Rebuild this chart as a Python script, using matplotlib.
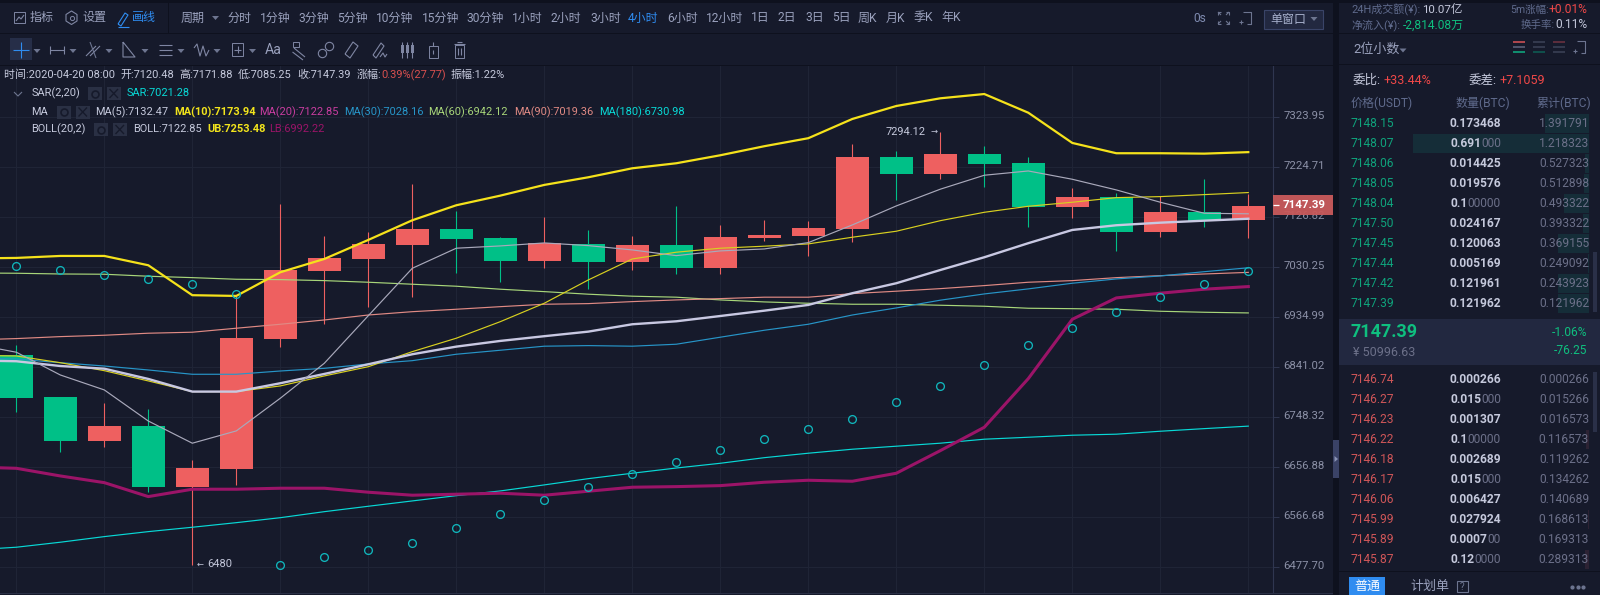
import math
import matplotlib
matplotlib.use("Agg")
import matplotlib.pyplot as plt
from matplotlib.patches import Rectangle, Polygon
from matplotlib.transforms import ScaledTranslation

plt.rcParams['font.family'] = ['Roboto', 'Noto Sans CJK SC', 'DejaVu Sans']

# ---------- chart data ----------
opens = [6863.0,6784.8,6704.4,6731.3,6620.8,6653.3,6893.7,7022.6,7045.8,7072.8,7103.1,7085.7,7041.3,7074.1,7040.0,7072.2,7028.3,7086.3,7090.1,7103.7,7244.0,7211.0,7249.9,7232.0,7146.4,7165.4,7097.6,7136.0,7120.48]
highs = [6881.8,6785.0,6773.7,6762.6,6668.6,6974.4,7151.7,7089.6,7097.3,7191.4,7138.0,7087.6,7126.2,7101.7,7089.6,7147.8,7111.4,7120.4,7118.5,7269.2,7256.5,7294.12,7265.8,7244.0,7183.0,7173.2,7167.3,7200.6,7171.88]
lows = [6756.5,6684.3,6692.9,6610.7,6480.0,6623.9,6877.5,6921.8,6954.0,6973.1,7017.7,7001.6,7027.2,6987.8,7024.0,7017.0,7017.0,7079.9,7051.5,7078.5,7159.5,7200.6,7185.0,7106.9,7123.7,7060.8,7087.8,7107.5,7085.25]
closes = [6783.5,6704.4,6731.3,6620.8,6654.5,6895.0,7024.0,7047.1,7074.1,7103.1,7084.3,7041.3,7076.0,7040.0,7072.2,7028.3,7087.6,7091.5,7105.0,7244.0,7211.0,7249.9,7230.7,7146.4,7165.4,7097.6,7136.0,7119.1,7147.39]

# line series start one 4h bar before the first visible candle
ub = [7046.1,7047.1,7050.9,7050.9,7033.0,6975.8,6974.4,7019.6,7045.1,7081.8,7119.9,7149.1,7167.9,7188.9,7203.9,7221.6,7231.5,7247.3,7265.2,7281.1,7319.4,7345.4,7360.8,7369.4,7331.9,7271.7,7251.3,7251.3,7250.5,7253.48]
lb = [6656.3,6654.0,6640.1,6628.0,6602.8,6616.1,6616.1,6617.9,6617.9,6610.7,6605.3,6607.1,6608.9,6605.3,6612.5,6619.7,6620.8,6622.6,6628.7,6632.3,6630.5,6645.0,6686.1,6728.9,6818.8,6930.1,6970.6,6979.6,6987.2,6992.22]
ma5 = [6883.7,6868.1,6825.6,6797.8,6740.4,6699.7,6722.2,6782.4,6847.4,6936.9,7027.2,7065.8,7070.2,7076.0,7070.8,7062.5,7051.5,7060.6,7064.4,7076.6,7110.8,7147.8,7180.5,7207.9,7216.3,7200.0,7179.1,7155.0,7133.5,7132.47]
ma10 = [6862.1,6861.1,6848.5,6833.6,6814.5,6794.7,6794.7,6805.2,6823.8,6841.0,6869.2,6894.4,6925.6,6960.5,7004.9,7045.1,7058.1,7065.8,7069.7,7074.1,7087.0,7098.6,7119.1,7135.4,7147.1,7155.0,7164.0,7166.0,7169.9,7173.94]
ma20 = [6852.7,6851.2,6842.3,6837.3,6818.2,6794.7,6794.7,6810.2,6827.5,6845.5,6864.3,6878.6,6889.3,6898.2,6906.8,6920.7,6926.3,6936.3,6946.4,6957.3,6979.6,6998.6,7023.9,7048.4,7075.5,7101.1,7110.2,7115.2,7119.1,7122.85]
ma30 = [6857.2,6855.3,6848.5,6842.3,6834.9,6826.9,6826.9,6833.0,6838.0,6846.1,6852.3,6864.3,6871.8,6879.4,6880.5,6879.4,6883.1,6896.3,6909.4,6920.7,6938.2,6951.6,6966.3,6978.2,6987.8,6998.6,7006.8,7012.5,7020.7,7028.16]
ma60 = [7018.2,7017.7,7016.3,7015.8,7012.0,7009.3,7006.2,7005.5,7003.6,7000.5,6996.7,6992.9,6987.2,6982.6,6977.7,6973.9,6972.0,6966.8,6963.0,6960.5,6958.6,6958.6,6956.7,6954.8,6951.0,6950.2,6949.1,6945.3,6943.4,6942.12]
ma90 = [6891.2,6893.7,6897.4,6900.0,6903.8,6905.7,6913.2,6920.7,6928.8,6938.2,6944.5,6949.1,6954.0,6958.6,6959.8,6963.6,6966.8,6969.3,6972.0,6972.0,6978.8,6983.4,6988.3,6994.1,7000.5,7003.6,7009.3,7013.1,7016.3,7019.36]
ma180 = [6507.4,6512.2,6521.1,6531.1,6540.0,6547.8,6556.0,6564.9,6575.7,6585.4,6595.0,6604.5,6613.0,6623.9,6635.2,6645.0,6654.5,6663.1,6673.3,6681.4,6688.7,6694.2,6699.7,6707.0,6710.6,6714.3,6716.2,6721.6,6726.4,6730.98]
sar = [7032.2,7024.0,7015.0,7006.2,6997.9,6977.7,6480.7,6494.4,6507.4,6520.4,6546.6,6572.1,6596.8,6620.8,6643.7,6666.0,6686.9,6707.0,6726.4,6744.6,6776.1,6805.8,6845.1,6881.1,6913.8,6944.0,6971.9,6997.9,7021.28]

price_ticks = [7323.95,7224.71,7126.82,7030.25,6934.99,6841.02,6748.32,6656.88,6566.68,6477.70]

# ---------- order book data ----------
ask_prices = ['7148.15','7148.07','7148.06','7148.05','7148.04','7147.50','7147.45','7147.44','7147.42','7147.39']
ask_qty = [('0.173468',''),('0.691','000'),('0.014425',''),('0.019576',''),('0.1','00000'),('0.024167',''),('0.120063',''),('0.005169',''),('0.121961',''),('0.121962','')]
ask_total = ['1.391791','1.218323','0.527323','0.512898','0.493322','0.393322','0.369155','0.249092','0.243923','0.121962']
bid_prices = ['7146.74','7146.27','7146.23','7146.22','7146.18','7146.17','7146.06','7145.99','7145.89','7145.87']
bid_qty = [('0.000266',''),('0.015','000'),('0.001307',''),('0.1','00000'),('0.002689',''),('0.015','000'),('0.006427',''),('0.027924',''),('0.0007','00'),('0.12','0000')]
bid_total = ['0.000266','0.015266','0.016573','0.116573','0.119262','0.134262','0.140689','0.168613','0.169313','0.289313']

periods = [('分时',227),('1分钟',260),('3分钟',298),('5分钟',337),('10分钟',376),('15分钟',422),('30分钟',466),('1小时',512),('2小时',550.5),('3小时',590),('4小时',628),('6小时',667),('12小时',705.6),('1日',751),('2日',778),('3日',805),('5日',832),('周K',858),('月K',886),('季K',913),('年K',941)]

# ---------- colours ----------
BG = '#161a2b'
GRID = '#1f2436'
EDGE = '#0e111e'
RED = '#ee6060'
GREEN = '#00c087'
TXT = '#9aa1bd'
ICON = '#7f86a3'
LIGHT = '#c5c9dc'
BLUE = '#2f8cf0'
ASK = '#0fa37c'
BID = '#cf5658'

W, H = 1600, 595
fig = plt.figure(figsize=(W/100, H/100), dpi=100, facecolor=BG)
renderer = fig.canvas.get_renderer()

# ---------- main chart ----------
L_PX, R_PX, T_PX, B_PX = 0, 1273, 66, 592.5
ax = fig.add_axes([L_PX/W, 1-B_PX/H, (R_PX-L_PX)/W, (B_PX-T_PX)/H], facecolor=BG)
ax.set_yscale('log')
step = 44.0
ax.set_xlim((L_PX-16.3)/step, (R_PX-16.3)/step)
k = math.log(price_ticks[0]/price_ticks[-1])/450.0
ax.set_ylim(price_ticks[-1]*math.exp(-k*(B_PX-566.7)), price_ticks[0]*math.exp(k*(116.7-T_PX)))
ax.set_axisbelow(True)

idx = list(range(len(opens)))
for i in idx:
    c = RED if closes[i] >= opens[i] else GREEN
    ax.vlines(i, lows[i], highs[i], color=c, lw=0.8, zorder=2)
    ax.bar(i, abs(closes[i]-opens[i]), bottom=min(opens[i], closes[i]), width=33/step, color=c, lw=0, zorder=2.1)

line_x = list(range(-1, len(opens)))
ax.plot(line_x, ma180, color='#08d9d6', lw=0.85, zorder=3)
ax.plot(line_x, ma60, color='#a8d67a', lw=0.85, zorder=3)
ax.plot(line_x, ma90, color='#e08a84', lw=0.85, zorder=3)
ax.plot(line_x, ma30, color='#2795c8', lw=0.85, zorder=3)
ax.plot(line_x, ma10, color='#d8d020', lw=0.85, zorder=3)
ax.plot(line_x, ma20, color='#c8c8e2', lw=1.7, zorder=3.1)
ax.plot(line_x, ma5, color='#a9a9bb', lw=0.85, zorder=3.2)
ax.plot(line_x, ub, color='#f5e21b', lw=1.6, zorder=3.3)
ax.plot(line_x, lb, color='#9b1468', lw=2.2, zorder=3.3)
ax.plot(idx, sar, 'o', mfc='none', mec='#10b5bb', ms=5.6, mew=0.95, zorder=4)

PT = 0.72
ax.annotate('7294.12', (21, 7294.12), xytext=(-15*PT, 0), textcoords='offset points', ha='right', va='center',
            color=LIGHT, fontsize=7.9, zorder=5)
ax.annotate('→', (21, 7294.12), xytext=(-3*PT, 0), textcoords='offset points', ha='right', va='center',
            color=LIGHT, fontsize=6, zorder=5, family='DejaVu Sans')
ax.annotate('←', (4, 6480), xytext=(4*PT, 1), textcoords='offset points', ha='left', va='center',
            color=LIGHT, fontsize=6, zorder=5, family='DejaVu Sans')
ax.annotate('6480', (4, 6480), xytext=(15*PT, 1), textcoords='offset points', ha='left', va='center',
            color=LIGHT, fontsize=7.9, zorder=5)

ax.set_xticks(range(0, 29, 2))
ax.set_xticklabels([])
ax.minorticks_off()
ax.yaxis.tick_right()
ax.set_yticks(price_ticks)
ax.set_yticklabels([f'{v:.2f}' for v in price_ticks])
ax.tick_params(axis='y', which='both', length=4.3, width=0.7, color='#2f3650', labelcolor='#8b90a6', labelsize=8.2, pad=3)
ax.tick_params(axis='y', which='minor', length=0, labelright=False)
ax.tick_params(axis='x', length=0)
ax.grid(True, color=GRID, lw=0.75)
for lbl in ax.get_yticklabels():
    lbl.set_transform(lbl.get_transform() + ScaledTranslation(0, 1.5/100, fig.dpi_scale_trans))
for s in ['top', 'left', 'bottom']:
    ax.spines[s].set_visible(False)
ax.spines['right'].set_color('#2f3650')
ax.spines['right'].set_linewidth(0.8)

# ---------- UI overlay in pixel coordinates ----------
ui = fig.add_axes([0, 0, 1, 1], facecolor='none', zorder=10)
ui.set_xlim(0, W)
ui.set_ylim(H, 0)
ui.axis('off')

def px(s):
    return s*0.72

def T(x, y, s, color=TXT, size=12, ha='left', weight='normal', z=6):
    return ui.text(x, y, s, color=color, fontsize=px(size), ha=ha, va='center', fontweight=weight, zorder=z)

def R(x0, y0, x1, y1, color, z=1, alpha=None, fill=True, lw=0):
    ui.add_patch(Rectangle((x0, y0), x1-x0, y1-y0, facecolor=color if fill else 'none',
                           edgecolor=color if not fill else 'none', linewidth=lw, zorder=z, alpha=alpha))

def Ln(xs, ys, color=ICON, lw=0.8, z=5):
    ui.plot(xs, ys, color=color, lw=lw, zorder=z, solid_capstyle='butt')

def caret(x, y, color='#6d7590'):
    ui.add_patch(Polygon([(x-3.5, y-2), (x+3.5, y-2), (x, y+2)], facecolor=color, edgecolor='none', zorder=5))

# panels / toolbars
R(0, 0, W, 3, EDGE, z=1)
R(0, 33, 1333, 34, EDGE, z=1)
R(0, 65, 1333, 66, EDGE, z=1)
R(167.5, 3, 168.5, 33, EDGE, z=1)
R(1333, 0, 1339, H, EDGE, z=1)
R(1339, 33, W, 34, EDGE, z=1)
R(1339, 64, W, 65, EDGE, z=1)
R(1339, 571, W, 572, EDGE, z=1)
R(0, 592.5, 1333, 593.5, '#2a3046', z=1)

# top toolbar icons + text
R(14, 12, 25, 23, ICON, fill=False, lw=0.7, z=5)
Ln([16, 19, 21, 24], [21, 17, 19, 15])
T(29.5, 18, '指标')
ui.add_patch(Polygon([(71.5, 11), (77, 14.5), (77, 21), (71.5, 24.5), (66, 21), (66, 14.5)], facecolor='none', edgecolor=ICON, lw=0.8, zorder=5))
ui.plot([71.5], [17.8], 'o', mfc='none', mec=ICON, ms=3, mew=0.7, zorder=5)
T(82, 18, '设置')
Ln([118, 125, 128, 121, 118], [24, 13, 15, 26, 24], BLUE)
Ln([118, 129], [27, 27], BLUE)
T(132, 18, '画线', BLUE)
T(181, 18, '周期')
caret(215.5, 18)
for name, x in periods:
    T(x, 18, name, BLUE if name == '4小时' else TXT)
T(1193.6, 18, '0s', '#7f8bb0')
for (a, b, c, d) in [(1218, 12, 1, 1), (1229, 12, -1, 1), (1218, 24, 1, -1), (1229, 24, -1, -1)]:
    Ln([a, a, a+3*c], [b+3*d, b, b], '#6d7590')
    Ln([a, a+3*c], [b, b+3*d], '#6d7590')
Ln([1243, 1251, 1251, 1247], [12, 12, 24, 24], '#6d7590')
Ln([1239, 1243], [22, 22], '#6d7590')
Ln([1241, 1241], [20, 24], '#6d7590')
R(1263.6, 9.5, 1322.5, 28.5, '#222840', z=2)
R(1263.6, 9.5, 1322.5, 28.5, '#3a4468', fill=False, lw=0.8, z=3)
T(1270, 19, '单窗口', '#a7b0cc')
caret(1314, 19)

# second toolbar
R(10, 38, 32, 60, '#262e48', z=2)
Ln([13, 29], [49.5, 49.5], BLUE)
Ln([21, 21], [41.5, 57.5], BLUE)
for xc in [37, 73, 109, 145, 181, 217, 252.5]:
    caret(xc, 51)
Ln([50, 64], [50, 50]); Ln([50, 50], [46, 54]); Ln([64, 64], [46, 54])
Ln([86, 96], [56, 46]); Ln([90, 100], [56, 46]); Ln([90, 96], [42, 58], '#6d7590')
Ln([123, 123, 135, 123], [42, 57, 57, 42])
Ln([159, 172], [45, 45]); Ln([159, 172], [50, 50]); Ln([159, 172], [55, 55])
Ln([194, 197, 200, 203, 206, 209], [48, 44, 56, 46, 56, 50])
R(232, 43, 243, 56, ICON, fill=False, lw=0.7, z=5)
Ln([234, 241], [49.5, 49.5]); Ln([237.5, 237.5], [46, 53])
T(265, 50, 'Aa', size=14)
R(293, 42, 299, 47, ICON, fill=False, lw=0.7, z=5)
Ln([294, 305], [48, 57]); Ln([292.5, 303], [52, 60])
ui.plot([322, 329], [53, 46], 'o', mfc='none', mec=ICON, ms=6, mew=0.8, zorder=5)
Ln([345, 353, 358, 350, 345], [54, 42, 46, 58, 54])
Ln([373, 381, 384, 376, 373], [55, 43, 46, 58, 55]); Ln([380, 383, 385, 387], [57, 53, 57, 54])
for xc in [402, 407, 412]:
    R(xc-1.5, 45, xc+1.5, 53, ICON, z=5)
    Ln([xc, xc], [42, 58])
R(428.5, 46, 438, 58, ICON, fill=False, lw=0.7, z=5)
Ln([433, 433], [42, 46]); Ln([433, 433], [50, 54])
R(455, 45, 464, 58, ICON, fill=False, lw=0.7, z=5)
Ln([453.5, 465], [44, 44]); Ln([457, 462], [41.5, 41.5])
Ln([458, 458], [48, 55]); Ln([461, 461], [48, 55])

# legend rows
Y1, Y2, Y3, Y4 = 75, 93.5, 112, 129.5
S = 11
for x, s, c in [(4, '时间:2020-04-20 08:00', LIGHT), (120, '开:7120.48', LIGHT), (179, '高:7171.88', LIGHT),
                (238, '低:7085.25', LIGHT), (297, '收:7147.39', LIGHT), (356.5, '涨幅:', LIGHT),
                (381, '0.39%(27.77)', '#d9504f'), (451, '振幅:1.22%', LIGHT)]:
    T(x, Y1, s, c, S)
Ln([14, 18, 22], [92, 96, 92], '#6d7590')
T(31.6, Y2, 'SAR(2,20)', LIGHT, S)
T(127, Y2, 'SAR:7021.28', '#08d9d6', S)
T(31.6, Y3, 'MA', LIGHT, S)
for x, s, c, w in [(95, 'MA(5):7132.47', LIGHT, 'normal'), (174, 'MA(10):7173.94', '#f2e41c', 'bold'),
                   (259, 'MA(20):7122.85', '#c93da0', 'normal'), (344, 'MA(30):7028.16', '#2795c8', 'normal'),
                   (428.5, 'MA(60):6942.12', '#a8d67a', 'normal'), (514, 'MA(90):7019.36', '#e08a84', 'normal'),
                   (599, 'MA(180):6730.98', '#08d9d6', 'normal')]:
    T(x, Y3, s, c, S, weight=w)
T(31.6, Y4, 'BOLL(20,2)', LIGHT, S)
T(133, Y4, 'BOLL:7122.85', LIGHT, S)
T(207, Y4, 'UB:7253.48', '#f2e41c', S, weight='bold')
T(269, Y4, 'LB:6992.22', '#9b1468', S)
for x0, y in [(88, Y2), (107, Y2), (57, Y3), (76, Y3), (94, Y4), (113, Y4)]:
    R(x0, y-6.5, x0+13.5, y+6.5, '#2a3044', z=2)
for x0, y in [(107, Y2), (76, Y3), (113, Y4)]:
    Ln([x0+2.5, x0+11], [y-4.5, y+4.5], '#161a2b', lw=1)
    Ln([x0+2.5, x0+11], [y+4.5, y-4.5], '#161a2b', lw=1)
for x0, y in [(88, Y2), (57, Y3), (94, Y4)]:
    ui.plot([x0+6.7], [y], 'o', mfc='none', mec='#161a2b', ms=5, mew=1.2, zorder=5)

# price tag
R(1273, 195, 1333, 215, '#c95a5b', z=4, alpha=0.95)
Ln([1273, 1279], [205, 205], 'white', lw=0.9)
T(1283, 204.5, '7147.39', 'white', 11.5, weight='bold')

# sidebar header
T(1351, 9.5, '24H成交额(¥):', '#5f6a8c', 11)
T(1421.7, 9.5, '10.07亿', LIGHT, 11.5)
T(1549, 9.5, '5m涨幅:', '#5f6a8c', 10.5, ha='right')
T(1587, 9.5, '+0.01%', '#f04848', 12, ha='right')
T(1351, 25, '净流入(¥):', '#5f6a8c', 11)
T(1402.7, 25, '-2,814.08万', '#0fbf7f', 12)
T(1555, 25, '换手率:', '#5f6a8c', 10.5, ha='right')
T(1587, 25, '0.11%', LIGHT, 12, ha='right')
T(1353, 49, '2位小数', TXT, 13)
caret(1403, 50.5)
rows = [(1513, ['#c94f55', '#5a6078', '#0fa37c']), (1533, ['#3a4055', '#3a4055', '#0e5a52']), (1553, ['#6a3240', '#3a4055', '#3a4055'])]
for x0, cs in rows:
    for yy, c in zip([41.7, 46.7, 51.7], cs):
        Ln([x0, x0+12], [yy, yy], c, lw=1.2)
Ln([1577, 1585, 1585, 1581], [41, 41, 53, 53], '#6d7590')
Ln([1573, 1577], [51, 51], '#6d7590')
Ln([1575, 1575], [49, 53], '#6d7590')

T(1353, 80.7, '委比:', LIGHT, 12.5)
T(1383, 80.7, '+33.44%', '#f04848', 12.5)
T(1469, 80.7, '委差:', LIGHT, 12.5)
T(1499, 80.7, '+7.1059', '#f04848', 12.5)
T(1351, 103.3, '价格(USDT)', '#5f6a8c', 12)
T(1510, 103.3, '数量(BTC)', '#5f6a8c', 12, ha='right')
T(1591, 103.3, '累计(BTC)', '#5f6a8c', 12, ha='right')

def book_rows(prices, qtys, totals, y0, pcolor, barc, scale):
    for i, (p, q, t) in enumerate(zip(prices, qtys, totals)):
        y = y0 + 20*i
        w = float(q[0]+q[1])*scale
        R(1589-w, y-9.5, 1589, y+9.5, barc, z=2)
        T(1351, y, p, pcolor, 12)
        edge_x = 1501.0
        if q[1]:
            dim = T(1501, y, q[1], '#6c7089', 12, ha='right')
            left_disp = dim.get_window_extent(renderer).x0
            edge_x = ui.transData.inverted().transform((left_disp, 0))[0]
        T(edge_x, y, q[0], LIGHT, 12, weight='bold', ha='right')
        T(1589, y, t, '#6c7089', 12, ha='right')

book_rows(ask_prices, ask_qty, ask_total, 123.7, ASK, '#152d38', 254.7)
book_rows(bid_prices, bid_qty, bid_total, 379.3, BID, '#2c2233', 30)

# last price band
R(1339, 319, W, 365, '#222840', z=1)
T(1350.7, 331.7, '7147.39', '#0fbf7f', 18, weight='bold')
T(1353, 352, '¥ 50996.63', '#6c7089', 12.5)
T(1587, 332, '-1.06%', '#0fbf7f', 12, ha='right')
T(1587, 350.7, '-76.25', '#0fbf7f', 12, ha='right')

# scrollbars + splitter
R(1593, 252, 1597, 312, '#2a3048', z=3)
R(1593, 372, 1597, 432, '#2a3048', z=3)
R(1333, 440, 1339, 478, '#3a4266', z=3)
ui.add_patch(Polygon([(1334.5, 456), (1334.5, 462), (1338, 459)], facecolor='#8a93b5', edgecolor='none', zorder=4))

# bottom tabs
R(1349, 577, 1385, 595, '#2f8cf0', z=2)
T(1367, 586, '普通', 'white', 13, ha='center')
T(1410, 586, '计划单', TXT, 13)
R(1457, 581, 1468, 592, '#6d7590', fill=False, lw=0.8, z=3)
T(1462.5, 586.5, '?', '#6d7590', 10, ha='center')
ui.plot([1572, 1577.5, 1583], [587, 587, 587], 'o', color='#6d7590', ms=2, zorder=5)

fig.savefig('out.png', dpi=100, facecolor=BG)
